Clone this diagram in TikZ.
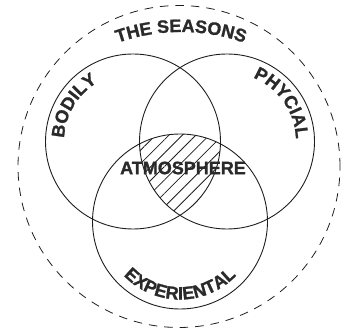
\documentclass[tikz,border=0pt]{standalone}
\usepackage{fontspec}
\setmainfont{Liberation Sans}
\newfontfamily\lblface{Liberation Sans}[UprightFont={* Bold},FakeBold=1.2]
\usetikzlibrary{decorations.text,patterns.meta}
\definecolor{ink}{HTML}{1E1E1E}
\definecolor{txt}{HTML}{2A2A2A}
\newcommand\lblfont{\color{txt}\lblface\fontsize{18}{18}\selectfont}
\begin{document}
\begin{tikzpicture}[x=1pt,y=1pt,
  ring/.style={draw=ink,line width=0.9pt},
  outerring/.style={draw=ink,line width=0.8pt,dash pattern=on 8.5pt off 7pt},
  hatch/.style={pattern={Lines[angle=45,distance=9.5pt,line width=0.8pt]},pattern color=ink},
  arclabel/.style={decorate,decoration={text along path,text align=center,text={#1}}}]
\useasboundingbox (0,0) rectangle (350,331);
\coordinate (O) at (179,164.5);
\coordinate (L) at (133,189.5);
\coordinate (R) at (227,189.5);
\coordinate (B) at (180,109.5);
\coordinate (S) at (181,109);
% hatched triple intersection
\begin{scope}
  \clip (L) circle (87.5pt);
  \clip (R) circle (87.5pt);
  \fill[hatch] (B) circle (87.5pt);
\end{scope}
% circles
\draw[outerring] (O) circle (161pt);
\draw[ring] (L) circle (87.5pt);
\draw[ring] (R) circle (87.5pt);
\draw[ring] (B) circle (87.5pt);
% curved labels
\path[arclabel={|\lblfont|THE SEASONS}] ([shift={(125:190pt)}]S) arc[start angle=125,end angle=55,radius=190pt];
\path[arclabel={|\lblfont|BODILY}] ([shift={(204:69pt)}]L) arc[start angle=204,end angle=94,radius=69pt];
\path[arclabel={|\lblfont|PHYCIAL}] ([shift={(90:69pt)}]R) arc[start angle=90,end angle=-20,radius=69pt];
\path[arclabel={|\lblfont|EXPERIENTAL}] ([shift={(210:78pt)}]B) arc[start angle=210,end angle=330,radius=78pt];
% center label
\node[inner sep=0pt,font=\lblfont] (atm) at (183,163) {ATMOSPHERE};
\end{tikzpicture}
\end{document}
